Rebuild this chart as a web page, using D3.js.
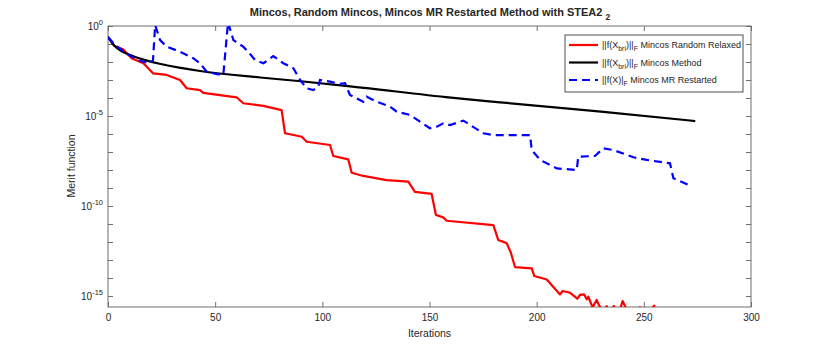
<!DOCTYPE html>
<html>
<head>
<meta charset="utf-8">
<script src="https://cdn.jsdelivr.net/npm/d3@7"></script>
<style>
  body { margin: 0; background: #fff; }
  svg text { font-family: "Liberation Sans", Arial, Helvetica, sans-serif; fill: #262626; }
</style>
</head>
<body>
<div class="chart"></div>
<script>
let width = 830;
let height = 346;
let margin = {top: 26, right: 79, bottom: 39, left: 108};

// values, stored as log10 of the merit function
let redIter = [0, 3, 7, 11, 16.5, 21, 27.4, 33.6, 36.7, 42.9, 44.5, 60, 63.1, 72.5, 81, 82.6, 90.4, 92.7, 103.6, 105.1, 112.1, 113.7, 119.1, 130, 140.1, 143.2, 151, 153, 156.4, 158, 179.8, 182.1, 186, 187.9, 189.9, 197.7, 198.9, 204.7, 210.9, 212.1, 215.6, 219, 220.2, 222.1, 223.4, 224.1, 226.1, 228, 228.8, 231, 232.7, 234, 236, 238, 240.1, 243, 245, 248.2, 250, 252, 255.2];
let redLog = [-0.61, -1.11, -1.29, -1.79, -2.07, -2.63, -2.72, -3.0, -3.46, -3.56, -3.71, -3.96, -4.29, -4.44, -4.67, -5.96, -6.15, -6.43, -6.61, -7.22, -7.41, -8.15, -8.33, -8.56, -8.65, -9.21, -9.33, -10.5, -10.63, -10.82, -11.06, -11.89, -12.06, -12.57, -13.39, -13.46, -13.89, -14.08, -14.91, -14.72, -14.82, -15.15, -14.94, -14.91, -15.18, -15.04, -15.63, -15.22, -15.44, -15.9, -15.56, -16.2, -15.55, -16.1, -15.28, -16.0, -16.3, -15.62, -16.0, -15.9, -15.5];

let blackIter = [0, 3, 6, 10, 17, 24, 34, 43, 71, 90, 113, 160, 183, 230, 274];
let blackLog = [-0.61, -1.1, -1.38, -1.6, -1.88, -2.1, -2.33, -2.5, -2.86, -3.07, -3.35, -3.98, -4.24, -4.76, -5.28];

let blueIter = [0, 3.3, 8.7, 13.4, 19.6, 21, 22, 24.3, 27.4, 33.6, 39.8, 42.9, 46.1, 50.7, 53.8, 56, 58.5, 63.1, 65.4, 68.6, 72.5, 77.1, 81.8, 86.5, 89.6, 92.7, 95.8, 98.1, 98.9, 103.6, 108.2, 110.6, 112.9, 119.1, 120.7, 125.4, 131.6, 134.7, 140.9, 150.2, 153.4, 156.4, 159.6, 164.2, 165.8, 175.1, 179.8, 196.9, 197.7, 201.6, 209.4, 218.7, 219.4, 227.2, 231.1, 235.8, 245.1, 251.3, 262.2, 263.8, 272];
let blueLog = [-0.61, -1.06, -1.52, -1.89, -2.07, -1.89, 0.05, -0.78, -1.15, -1.43, -1.79, -2.07, -2.54, -2.67, -2.72, 0.2, -0.78, -1.15, -1.43, -1.89, -2.07, -1.67, -2.07, -2.35, -3.0, -3.46, -3.56, -3.37, -3.0, -3.09, -3.22, -3.18, -3.83, -4.21, -3.93, -4.21, -4.48, -4.76, -4.94, -5.68, -5.59, -5.41, -5.5, -5.32, -5.26, -5.96, -6.06, -6.06, -6.89, -7.44, -7.91, -8.0, -7.26, -7.22, -6.79, -6.89, -7.29, -7.44, -7.63, -8.46, -8.89];

let xTicks = [0, 50, 100, 150, 200, 250, 300];
let yExps = d3.range(0, -16, -1);
let yLabelExps = [0, -5, -10, -15];

let seriesNames = ['Mincos Random Relaxed', 'Mincos Method', 'Mincos MR Restarted'];

let svg = d3.select('.chart')
            .append('svg')
            .attr('width', width)
            .attr('height', height);

let x = d3.scaleLinear()
          .domain([0, 300])
          .range([margin.left, width - margin.right]);
let y = d3.scaleLog()
          .domain([Math.pow(10, -15.61), 1])
          .range([height - margin.bottom, margin.top]);

let toPts = (xs, ls) => xs.map((d, i) => [d, Math.pow(10, ls[i])]);

svg.append('clipPath')
   .attr('id', 'plot-clip')
   .append('rect')
   .attr('x', margin.left)
   .attr('y', margin.top)
   .attr('width', width - margin.left - margin.right)
   .attr('height', height - margin.top - margin.bottom);

// axes (ticks pointing in, MATLAB style)
let axisColor = '#6e6e6e';
let bottomAx = svg.append('g')
  .attr('transform', 'translate(0,' + (height - margin.bottom) + ')')
  .call(d3.axisBottom(x).tickValues(xTicks).tickSizeInner(-5).tickSizeOuter(0).tickPadding(7));
let topAx = svg.append('g')
  .attr('transform', 'translate(0,' + margin.top + ')')
  .call(d3.axisTop(x).tickValues(xTicks).tickSizeInner(-5).tickSizeOuter(0).tickFormat(''));
let leftAx = svg.append('g')
  .attr('transform', 'translate(' + margin.left + ',0)')
  .call(d3.axisLeft(y).tickValues(yExps.map(e => Math.pow(10, e))).tickSizeInner(-5).tickSizeOuter(0).tickPadding(5).tickFormat(''));
let rightAx = svg.append('g')
  .attr('transform', 'translate(' + (width - margin.right) + ',0)')
  .call(d3.axisRight(y).tickValues(yExps.map(e => Math.pow(10, e))).tickSizeInner(-5).tickSizeOuter(0).tickFormat(''));

[bottomAx, topAx, leftAx, rightAx].forEach(g => {
  g.selectAll('path, line').attr('stroke', axisColor);
  g.select('.domain').remove();
});
bottomAx.selectAll('text').style('font-size', '10px').attr('fill', '#262626');

svg.append('rect')
   .attr('x', margin.left)
   .attr('y', margin.top)
   .attr('width', width - margin.left - margin.right)
   .attr('height', height - margin.top - margin.bottom)
   .attr('fill', 'none')
   .attr('stroke', axisColor)
   .attr('stroke-width', 1);

// y tick labels like 10^-5
yLabelExps.forEach(e => {
  let t = svg.append('text')
    .attr('x', margin.left - 5)
    .attr('y', y(Math.pow(10, e)) + 4)
    .attr('text-anchor', 'end')
    .style('font-size', '10px');
  t.append('tspan').text('10');
  t.append('tspan').attr('dy', -5).style('font-size', '7.5px').text(e);
});

// lines
let line = d3.line().x(d => x(d[0])).y(d => y(d[1]));
let plot = svg.append('g').attr('clip-path', 'url(#plot-clip)');

plot.append('path')
    .datum(toPts(redIter, redLog))
    .attr('d', line)
    .attr('fill', 'none')
    .attr('stroke', '#ff0000')
    .attr('stroke-width', 2.2)
    .attr('stroke-linejoin', 'round');
plot.append('path')
    .datum(toPts(blackIter, blackLog))
    .attr('d', line.curve(d3.curveMonotoneX))
    .attr('fill', 'none')
    .attr('stroke', '#000')
    .attr('stroke-width', 2.2);
line.curve(d3.curveLinear);
plot.append('path')
    .datum(toPts(blueIter, blueLog))
    .attr('d', line)
    .attr('fill', 'none')
    .attr('stroke', '#0000ff')
    .attr('stroke-width', 2.2)
    .attr('stroke-dasharray', '8,5');

// title and labels
let title = svg.append('text')
   .attr('x', 430)
   .attr('y', 16)
   .attr('text-anchor', 'middle')
   .style('font-size', '11px')
   .style('font-weight', 'bold')
   .attr('fill', '#000');
title.append('tspan').text('Mincos, Random Mincos, Mincos MR Restarted Method with STEA2 ');
title.append('tspan').attr('dy', 4).style('font-size', '8.5px').text('2');

svg.append('text')
   .attr('x', (margin.left + width - margin.right) / 2)
   .attr('y', 337)
   .attr('text-anchor', 'middle')
   .style('font-size', '10.5px')
   .text('Iterations');
svg.append('text')
   .attr('transform', 'rotate(-90)')
   .attr('x', -166)
   .attr('y', 75)
   .attr('text-anchor', 'middle')
   .style('font-size', '10.5px')
   .text('Merit function');

// legend
let legend = svg.append('g').attr('id', 'legend');
legend.append('rect')
      .attr('x', 565)
      .attr('y', 35)
      .attr('width', 178)
      .attr('height', 57)
      .attr('fill', '#fff')
      .attr('stroke', '#262626')
      .attr('stroke-width', 0.8);

let legendColors = ['#ff0000', '#000', '#0000ff'];
let legendSubs = ['bri', 'bri', null];
let rows = legend.selectAll('.legend-label')
  .data(seriesNames)
  .enter()
  .append('g')
  .attr('class', 'legend-label')
  .attr('transform', (d, i) => 'translate(0,' + (45 + i * 17.5) + ')');
rows.append('line')
    .attr('x1', 569)
    .attr('x2', 598)
    .attr('stroke', (d, i) => legendColors[i])
    .attr('stroke-width', 2.2)
    .attr('stroke-dasharray', (d, i) => i == 2 ? '8,5' : null);
rows.each(function (d, i) {
  let t = d3.select(this).append('text')
    .attr('x', 602)
    .attr('y', 3)
    .style('font-size', '9px');
  if (legendSubs[i]) {
    t.append('tspan').text('||f(X');
    t.append('tspan').attr('dy', 3).style('font-size', '7px').text(legendSubs[i]);
    t.append('tspan').attr('dy', -3).text(')||');
  } else {
    t.append('tspan').text('||f(X)|');
  }
  t.append('tspan').attr('dy', 3).style('font-size', '7px').text('F');
  t.append('tspan').attr('dy', -3).text(' ' + d);
});
</script>
</body>
</html>
